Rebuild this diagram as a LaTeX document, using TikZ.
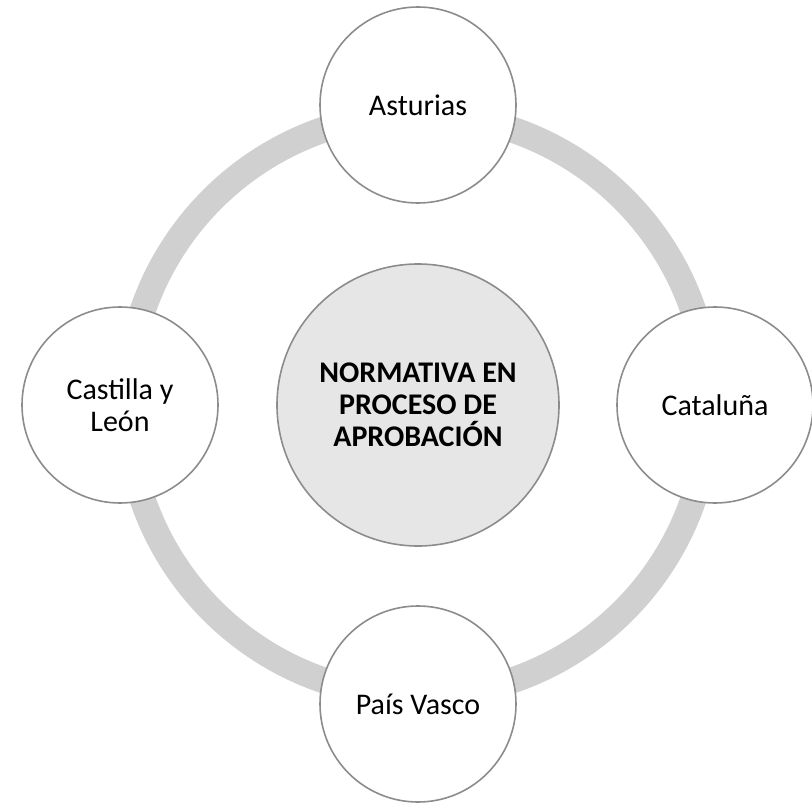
\documentclass[tikz,border=0pt]{standalone}
\usepackage{fontspec}
\setmainfont{Carlito}
\begin{document}
\begin{tikzpicture}[x=1pt,y=-1pt,
  sat/.style={circle,draw=circgray,line width=1.6pt,fill=white,minimum size=196pt,inner sep=0pt,align=center,font=\fontsize{30}{32}\selectfont},
  hub/.style={circle,draw=circgray,line width=1.6pt,fill=hubfill,minimum size=282pt,inner sep=0pt,align=center,font=\fontsize{30}{32}\selectfont\bfseries}]
\definecolor{circgray}{RGB}{140,140,140}
\definecolor{ringgray}{RGB}{208,208,208}
\definecolor{hubfill}{RGB}{230,230,230}
\useasboundingbox (0,0) rectangle (812,803);
\coordinate (c) at (418,405);
\draw[ringgray,line width=26pt] (c) circle[radius=291];
\node[hub] (hub) at (c) {NORMATIVA EN\\PROCESO DE\\APROBACIÓN};
\node[sat] (ast) at (418,105) {Asturias};
\node[sat] (cat) at (715,405) {Cataluña};
\node[sat] (pv) at (418,704) {País Vasco};
\node[sat] (cyl) at (120,405) {Castilla y\\León};
\end{tikzpicture}
\end{document}
